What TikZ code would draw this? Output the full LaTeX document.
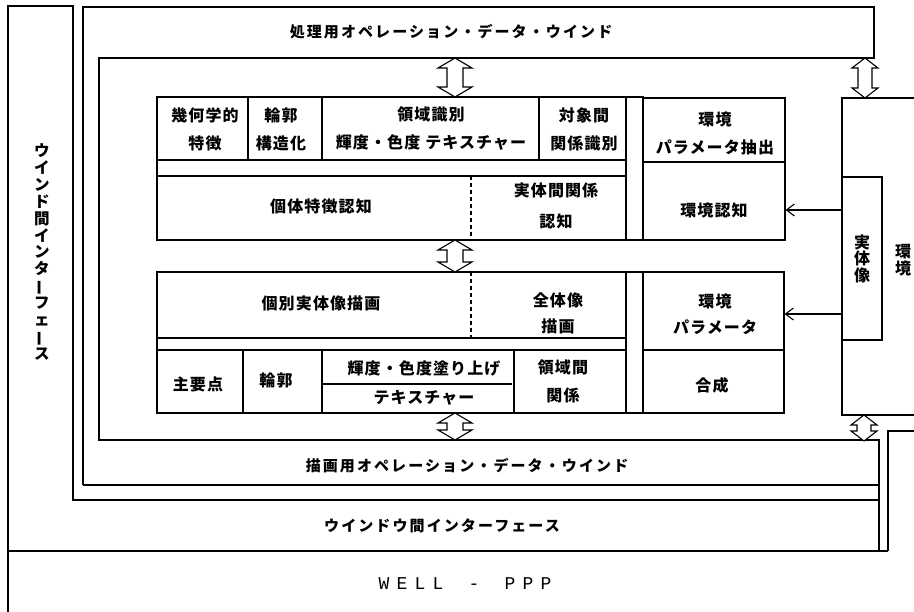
\documentclass[tikz,border=0pt]{standalone}
\usepackage{fontspec}
\usepackage{graphicx}
\newfontfamily\jpsp{Noto Sans CJK JP}[LetterSpace=7]
\newfontfamily\jpband{Noto Sans CJK JP}[LetterSpace=14]
\newfontfamily\wellfont{Liberation Mono}
\usetikzlibrary{arrows.meta}
\newcommand\dblarr[5]{%
  \draw[fill=white] (#1,#2) -- ({#1+#4},{#2+10}) -- ({#1+#5},{#2+10}) -- ({#1+#5},{#3-10}) -- ({#1+#4},{#3-10}) -- (#1,#3) -- ({#1-#4},{#3-10}) -- ({#1-#5},{#3-10}) -- ({#1-#5},{#2+10}) -- ({#1-#4},{#2+10}) -- cycle;}
\newcommand\vbar{\rotatebox[origin=c]{90}{ー}}
\newcommand\wc[1]{\makebox[18pt]{#1}}
\begin{document}
\begin{tikzpicture}[x=1pt,y=-1pt,line width=1.1pt,
  txt/.style={font=\jpsp\bfseries\fontsize{16pt}{28pt}\selectfont,align=center,inner sep=0pt},
  band/.style={font=\jpband\bfseries\fontsize{15pt}{17pt}\selectfont,inner sep=0pt},
  vtxt/.style={font=\jpsp\bfseries\fontsize{15.5pt}{16.9pt}\selectfont,align=center,inner sep=0pt},
  cellbox/.style={draw,inner sep=0pt},
  dashline/.style={dash pattern=on 4pt off 3pt},
  barb/.style={-{Straight Barb[length=8pt,width=12pt,line width=1.1pt]}}]
\useasboundingbox (0,0) rectangle (914,612);
\fill[white] (0,0) rectangle (914,612);
% ---- outer frames
\draw (8,612) -- (8,6) -- (73,6) -- (73,500) -- (879,500);
\draw (8,551) -- (888,551);
\draw (83,485) -- (83,7) -- (874,7) -- (874,58) -- (99,58) -- (99,440) -- (879,440) -- (879,551);
\draw (83,485) -- (879,485);
\draw (888,551) -- (888,431) -- (914,431);
% ---- environment box
\draw (914,98) -- (842,98) -- (842,415) -- (914,415);
\node[cellbox,minimum width=40pt,minimum height=163pt,font=\jpsp\bfseries\fontsize{16pt}{16.5pt}\selectfont,align=center] (jit) at (862,258.5) {実\\体\\像};
\node[vtxt,font=\jpsp\bfseries\fontsize{16pt}{16.5pt}\selectfont] (kan) at (903,260) {環\\境};
% ---- upper block
\draw (157,97) rectangle (626,240);
\draw (157,160) -- (626,160) (157,176) -- (626,176);
\draw (248,97) -- (248,160) (322,97) -- (322,160) (539,97) -- (539,160);
\draw[dashline] (471,176) -- (471,240);
\draw (626,97) rectangle (643,240);
\node[cellbox,minimum width=142pt,minimum height=64pt] (envp) at (714,130) {};
\node[cellbox,minimum width=142pt,minimum height=78pt] (envr) at (714,201) {};
\node[txt] (u1) at (205,129) {幾何学的\\特徴};
\node[txt] (u2) at (281,129) {輪郭\\構造化};
\node[txt] (u3) at (431,129) {領域識別\\輝度・色度\hspace{5pt}テキスチャー};
\node[txt] (u4) at (584,129) {対象間\\関係識別};
\node[txt] (u5) at (715,133) {環境\\パラメータ抽出};
\node[txt] (u6) at (321,206) {個体特徴認知};
\node[txt,font=\jpsp\bfseries\fontsize{16pt}{31pt}\selectfont] (u7) at (556,206) {実体間関係\\認知};
\node[txt] (kn) at (714,210) {環境認知};
% ---- lower block
\draw (157,272) rectangle (626,413);
\draw (157,338) -- (626,338) (157,350) -- (626,350);
\draw (243,350) -- (243,413) (322,350) -- (322,413) (514,350) -- (514,413);
\draw (322,384) -- (512,384);
\draw[dashline] (471,272) -- (471,338);
\draw (626,272) rectangle (643,413);
\node[cellbox,minimum width=141pt,minimum height=78pt] (parc) at (713.5,311) {};
\node[cellbox,minimum width=141pt,minimum height=63pt] (gsc) at (713.5,381.5) {};
\node[txt] (l1) at (321,303) {個別実体像描画};
\node[txt,font=\jpsp\bfseries\fontsize{16pt}{26pt}\selectfont] (l2) at (558,313) {全体像\\描画};
\node[txt,font=\jpsp\bfseries\fontsize{16pt}{26pt}\selectfont] (kp) at (715,314) {環境\\パラメータ};
\node[txt] (l3) at (198,384) {主要点};
\node[txt] (l4) at (276,380) {輪郭};
\node[txt] (l5) at (424,368) {輝度・色度塗り上げ};
\node[txt] (l6) at (424,398) {テキスチャー};
\node[txt] (l7) at (563,381) {領域間\\関係};
\node[txt] (l8) at (712,385) {合成};
% ---- connectors
\draw[barb] (jit.west |- kn) -- (envr.east |- kn);
\draw[barb] (jit.west |- kp) -- (parc.east |- kp);
% ---- double arrows
\dblarr{455}{58}{97}{17}{8}
\dblarr{455}{240}{272}{17}{8}
\dblarr{455}{413}{440}{17}{8}
\dblarr{865}{58}{98}{13}{7}
\dblarr{864}{415}{441}{13}{7}
% ---- band labels
\node[band] (t1) at (451,32) {処理用オペレーション・データ・ウインド};
\node[band] (t2) at (467,466) {描画用オペレーション・データ・ウインド};
\node[band] (t3) at (442,526) {ウインドウ間インターフェース};
\node[vtxt] (t4) at (42,252) {ウ\\イ\\ン\\ド\\間\\イ\\ン\\タ\\\vbar\\フ\\ェ\\\vbar\\ス};
\node[font=\wellfont\fontsize{18pt}{20pt}\selectfont,inner sep=0pt] (t5) at (465,584) {\wc{W}\wc{E}\wc{L}\wc{L}\wc{ }\wc{-}\wc{ }\wc{P}\wc{P}\wc{P}};
\end{tikzpicture}
\end{document}
